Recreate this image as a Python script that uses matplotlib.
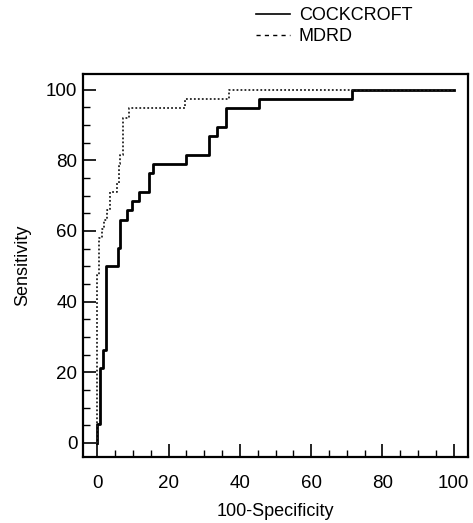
import matplotlib
matplotlib.use('Agg')
import matplotlib.pyplot as plt
from matplotlib.lines import Line2D
from matplotlib.ticker import MultipleLocator

plt.rcParams['font.family'] = ['Liberation Sans', 'DejaVu Sans']

# ROC corner points (left edge of each horizontal run)
cockcroft_fpr = [0, 0, 0.9, 1.6, 2.4, 5.7, 6.5, 8.2, 9.8, 11.6, 14.6, 15.6,
                 24.8, 31.2, 33.7, 36.2, 45.5, 71.5, 100]
cockcroft_tpr = [0, 5.3, 21.1, 26.3, 50.0, 55.3, 63.2, 65.8, 68.4, 71.1, 76.3,
                 78.9, 81.6, 86.8, 89.5, 94.7, 97.4, 100, 100]

mdrd_fpr = [0, 0, 0.6, 1.3, 2.0, 2.8, 3.7, 5.5, 6.0, 6.5, 7.3, 9.0, 24.5, 37, 100]
mdrd_tpr = [0, 47.4, 57.9, 60.5, 63.2, 65.8, 71.1, 73.7, 79.0, 81.6, 92.1, 94.7,
            97.4, 100, 100]

labels = ['COCKCROFT', 'MDRD']

fig = plt.figure(figsize=(4.73, 5.23), dpi=100)
ax = fig.add_axes([0.1755, 0.126, 0.814, 0.733])

ax.step(cockcroft_fpr, cockcroft_tpr, where='post', color='black', linewidth=2.0)
ax.step(mdrd_fpr, mdrd_tpr, where='post', color='#222222', linewidth=1.3,
        linestyle=(0, (1, 1.2)))

ax.set_xlim(-4, 104)
ax.set_ylim(-4, 104.5)
ax.xaxis.set_major_locator(MultipleLocator(20))
ax.xaxis.set_minor_locator(MultipleLocator(5))
ax.yaxis.set_major_locator(MultipleLocator(20))
ax.yaxis.set_minor_locator(MultipleLocator(5))
ax.tick_params(which='major', direction='in', length=9.5, width=1.2,
               labelsize=13.5)
ax.tick_params(axis='x', which='major', pad=13)
ax.tick_params(axis='y', which='major', pad=4)
ax.tick_params(which='minor', direction='in', length=5, width=1)
for sp in ax.spines.values():
    sp.set_linewidth(1.6)

ax.set_xlabel('100-Specificity', fontsize=13, labelpad=8)
ax.set_ylabel('Sensitivity', fontsize=13, labelpad=11)

handles = [Line2D([], [], color='black', linewidth=1.2),
           Line2D([], [], color='black', linewidth=1.0, linestyle=(0, (3, 3)))]
fig.legend(handles, labels, loc='upper left', bbox_to_anchor=(0.525, 1.0),
           frameon=False, fontsize=13, handlelength=1.9, handletextpad=0.5,
           labelspacing=0.2, borderaxespad=0)

fig.savefig('out.png', dpi=100)
